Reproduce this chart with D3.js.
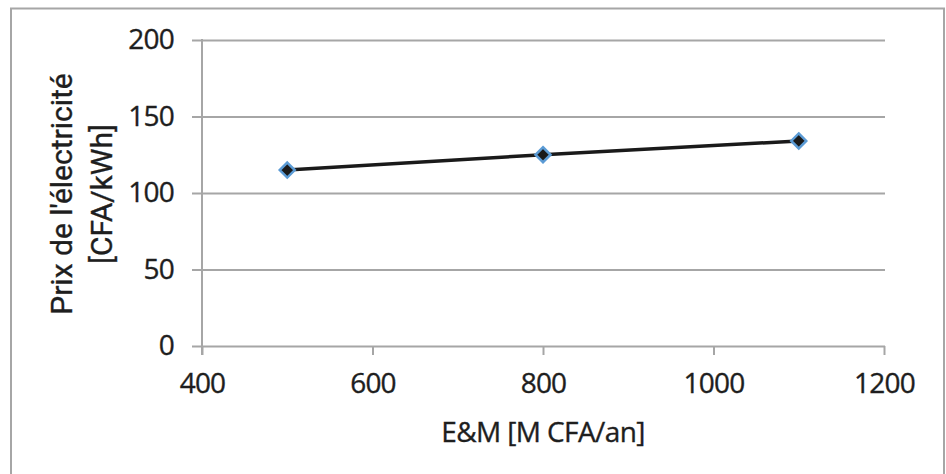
<!DOCTYPE html>
<html><head><meta charset="utf-8">
<script src="https://cdn.jsdelivr.net/npm/d3@7"></script>
<style>
html,body{margin:0;padding:0;background:#fff;}
svg{display:block;}
</style></head>
<body>
<script>
const xValues = [500, 800, 1100];
const yValues = [115, 125, 134];
const xTicks = [400, 600, 800, 1000, 1200];
const yTicks = [0, 50, 100, 150, 200];
const xTitle = "E&M [M CFA/an]";
const yTitleLines = ["Prix de l'électricité", "[CFA/kWh]"];

const W = 946, H = 474;
const svg = d3.select("body").append("svg").attr("width", W).attr("height", H);

svg.append("rect").attr("x", 11).attr("y", 8.5).attr("width", 933).attr("height", 480)
  .attr("fill", "#fff").attr("stroke", "#a6a6a6").attr("stroke-width", 2);

const x = d3.scaleLinear().domain([400, 1200]).range([202, 884]);
const y = d3.scaleLinear().domain([0, 200]).range([346, 40]);

const gridColor = "#a6a6a6";
const textColor = "#1e1e1e";
const tickFont = "'Open Sans', Lato, sans-serif";

function styleText(sel, ls) {
  return sel.attr("fill", textColor).attr("stroke", textColor).attr("stroke-width", 0.35)
    .style("font-family", tickFont).style("font-size", "28px").style("letter-spacing", ls);
}

// horizontal gridlines + y axis ticks
const yAxis = d3.axisLeft(y).tickValues(yTicks).tickSize(10).tickPadding(18);
const gy = svg.append("g").attr("transform", "translate(202,0)").call(yAxis);
gy.select(".domain").remove();
gy.selectAll(".tick line").attr("x2", 884 - 202 + 1).attr("x1", -10)
  .attr("stroke", gridColor).attr("stroke-width", 2);
styleText(gy.selectAll(".tick text"), "-0.8px");

// x axis
const xAxis = d3.axisBottom(x).tickValues(xTicks).tickSize(9).tickPadding(18).tickFormat(d3.format("d"));
const gx = svg.append("g").attr("transform", "translate(0,346)").call(xAxis);
gx.select(".domain").remove();
gx.selectAll(".tick line").attr("stroke", gridColor).attr("stroke-width", 2);
styleText(gx.selectAll(".tick text"), "-0.8px");

// vertical axis line
svg.append("line").attr("x1", 202).attr("x2", 202).attr("y1", 39).attr("y2", 355)
  .attr("stroke", gridColor).attr("stroke-width", 2);

// series line
const data = xValues.map((v, i) => ({x: v, y: yValues[i]}));
svg.append("path").datum(data)
  .attr("d", d3.line().x(d => x(d.x)).y(d => y(d.y)))
  .attr("fill", "none").attr("stroke", "#1a1a1a").attr("stroke-width", 3.5);

// markers
svg.selectAll(".mk").data(data).enter().append("path")
  .attr("transform", d => `translate(${x(d.x)},${y(d.y)})`)
  .attr("d", "M0,-7.5L7.5,0L0,7.5L-7.5,0Z")
  .attr("fill", "#1a1a1a").attr("stroke", "#5b9bd5").attr("stroke-width", 2.5);

// x title
const xt = svg.append("text").attr("x", 543).attr("y", 442).attr("text-anchor", "middle");
styleText(xt, "-0.6px").text(xTitle);

// y title
const yt = svg.append("text").attr("transform", "translate(0,194) rotate(-90)")
  .attr("text-anchor", "middle").attr("fill", textColor)
  .attr("stroke", textColor).attr("stroke-width", 0.35)
  .style("font-family", "Roboto, sans-serif").style("font-size", "30px");
yt.append("tspan").attr("x", 0).attr("y", 72).text(yTitleLines[0]);
yt.append("tspan").attr("x", 0).attr("y", 112).text(yTitleLines[1]);
</script>
</body></html>
